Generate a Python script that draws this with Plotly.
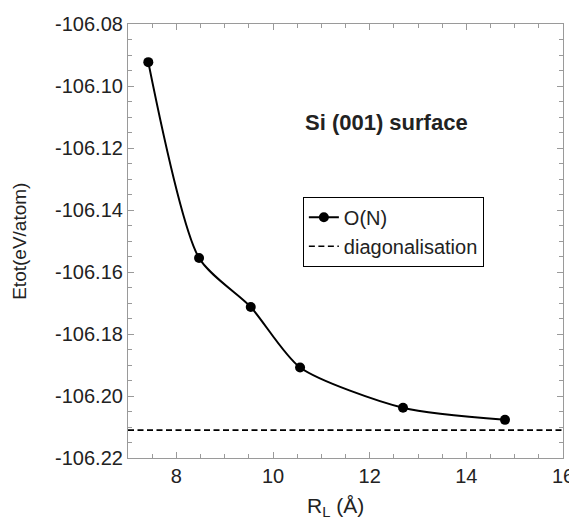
import plotly.graph_objects as go

# Data
r_l = [7.42, 8.47, 9.54, 10.56, 12.69, 14.80]
etot_on = [-106.0923, -106.1555, -106.1713, -106.1908, -106.2038, -106.2077]
diag_energy = -106.2110
x_range = [7, 16]
y_range = [-106.22, -106.08]
x_tick_vals = [8, 10, 12, 14, 16]
x_tick_text = ["8", "10", "12", "14", "16"]
y_tick_vals = [-106.08, -106.10, -106.12, -106.14, -106.16, -106.18, -106.20, -106.22]
y_tick_text = ["-106.08", "-106.10", "-106.12", "-106.14", "-106.16", "-106.18", "-106.20", "-106.22"]

FONT = "Liberation Sans, Arial, Helvetica, sans-serif"
AX = "#9a9a9a"
TXT = "#222"

fig = go.Figure()
fig.add_trace(go.Scatter(
    x=r_l, y=etot_on, mode="lines+markers", name="O(N)",
    line=dict(color="black", width=2, shape="spline", smoothing=0.7),
    marker=dict(color="black", size=10),
))
fig.add_trace(go.Scatter(
    x=x_range, y=[diag_energy, diag_energy], mode="lines", name="diagonalisation",
    line=dict(color="black", width=1.6, dash="6px,3.5px"),
))

axis_common = dict(
    showline=True, linecolor=AX, linewidth=1.2, mirror="ticks",
    ticks="inside", ticklen=6, tickcolor=AX, tickwidth=1,
    showgrid=False, zeroline=False, automargin=False,
    tickfont=dict(family=FONT, size=20, color=TXT),
)

fig.update_xaxes(
    range=x_range, tickmode="array", tickvals=x_tick_vals, ticktext=x_tick_text,
    minor=dict(dtick=0.5, tick0=0, ticks="inside", ticklen=4, tickcolor=AX, showgrid=False),
    **axis_common,
)
fig.update_yaxes(
    range=y_range, tickmode="array", tickvals=y_tick_vals, ticktext=y_tick_text,
    minor=dict(dtick=0.005, tick0=-106.2, ticks="inside", ticklen=4, tickcolor=AX, showgrid=False),
    **axis_common,
)

# axis titles placed as annotations
fig.add_annotation(
    text="R<sub>L</sub> (Å)", xref="paper", yref="paper",
    x=0.476, y=-0.113, xanchor="center", yanchor="middle", showarrow=False,
    font=dict(family=FONT, size=21, color=TXT),
)
fig.add_annotation(
    text="Etot(eV/atom)", xref="paper", yref="paper", textangle=-90,
    x=-0.251, y=0.5, xanchor="center", yanchor="middle", showarrow=False,
    font=dict(family=FONT, size=19, color=TXT),
)

fig.add_annotation(
    text="<b>Si (001) surface</b>", xref="paper", yref="paper",
    x=0.402, y=0.772, xanchor="left", yanchor="middle", showarrow=False,
    font=dict(family=FONT, size=22, color=TXT),
)

# page body has an 8px margin: shift figure accordingly
fig.update_layout(
    width=569, height=517,
    margin=dict(l=120, r=14, t=16, b=67),
    plot_bgcolor="white", paper_bgcolor="white",
    showlegend=True,
    legend=dict(
        x=0.402, y=0.602, xanchor="left", yanchor="top",
        bordercolor="black", borderwidth=1, bgcolor="white",
        font=dict(family=FONT, size=20, color=TXT),
        itemwidth=30, tracegroupgap=0,
    ),
)

fig.write_html("out.html")
